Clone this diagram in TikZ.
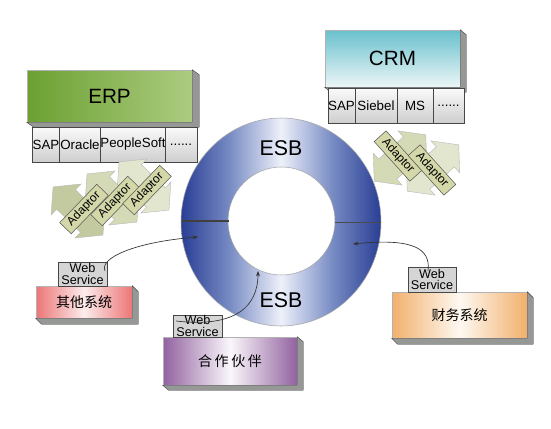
\documentclass[tikz,border=0pt]{standalone}
\usepackage{fontspec}
\setmainfont{Liberation Sans}
\newfontfamily\cjk{Noto Sans CJK SC}
\usetikzlibrary{shapes.arrows,arrows.meta}
\definecolor{esbdark}{RGB}{42,62,148}
\definecolor{esbmid}{RGB}{118,138,195}
\definecolor{esblight}{RGB}{238,241,250}
\definecolor{erpl}{RGB}{108,160,50}
\definecolor{erpr}{RGB}{172,204,128}
\definecolor{crmt}{RGB}{105,192,205}
\definecolor{crmb}{RGB}{236,246,247}
\definecolor{redc}{RGB}{236,118,118}
\definecolor{redm}{RGB}{252,236,236}
\definecolor{purc}{RGB}{146,98,160}
\definecolor{purm}{RGB}{250,247,251}
\definecolor{orac}{RGB}{242,176,108}
\definecolor{oram}{RGB}{254,249,242}
\definecolor{extc}{RGB}{150,152,150}
\definecolor{adlab}{RGB}{212,216,168}
\definecolor{adA}{RGB}{196,202,160}
\definecolor{adB}{RGB}{212,217,182}
\definecolor{adC}{RGB}{226,230,206}
\pgfdeclarehorizontalshading{esbshade}{100bp}{color(0bp)=(esbdark); color(25bp)=(esbdark); color(37bp)=(esbmid); color(50bp)=(esblight); color(63bp)=(esbmid); color(75bp)=(esbdark); color(100bp)=(esbdark)}
\newcommand\extrude[3]{\fill[extc, draw=gray!50!black, line width=0.3pt] (#1.north east) -- ([shift={(#2,#3)}]#1.north east) -- ([shift={(#2,#3)}]#1.south east) -- ([shift={(#2,#3)}]#1.south west) -- (#1.south west) -- (#1.south east) -- cycle;}
\begin{document}
\begin{tikzpicture}[x=0.75pt,y=-0.75pt,
  bigbox/.style={draw=gray!60, line width=0.4pt, inner sep=0pt, font=\fontsize{15.5}{16}\selectfont},
  subbox/.style={draw=gray!55!black, line width=0.4pt, top color=white!96!gray, bottom color=gray!38, minimum height=26.25pt, inner sep=0pt, font=\fontsize{10}{11}\selectfont},
  sysbox/.style={draw=gray!60, line width=0.4pt, inner sep=0pt, font=\cjk\fontsize{10.5}{12}\selectfont},
  wsbox/.style={draw=gray!55!black, line width=0.4pt, fill=gray!33, inner sep=0pt, align=center, font=\fontsize{9.5}{8.6}\selectfont},
  adarrow/.style={double arrow, draw=gray!55, line width=0.3pt, minimum height=52pt, minimum width=32pt, inner xsep=0pt, inner ysep=10pt, double arrow head extend=6pt, double arrow tip angle=100},
  adlabel/.style={draw=black!65, line width=0.4pt, fill=adlab, minimum width=40pt, minimum height=12pt, inner sep=0pt, font=\fontsize{9}{10}\selectfont},
  conn/.style={line width=0.5pt, black!80, -{Stealth[length=4pt,width=3pt]}},
  esbtext/.style={font=\fontsize{16}{16}\selectfont}]
\useasboundingbox (0,0) rectangle (551,429);
\fill[white] (0,0) rectangle (551,429);

% ESB ring
\path[shade, shading=esbshade, draw=gray!70, line width=0.4pt, even odd rule]
  (281,222) ellipse [x radius=100, y radius=104]
  (281.5,221) ellipse [x radius=53.5, y radius=54];
\draw[black!75, line width=0.9pt] (182,221) -- (229,221);
\draw[black!70, line width=0.6pt] (335,222) -- (381,222);
\node[esbtext] (esbtop) at (281,148) {ESB};
\node[esbtext] (esbbot) at (281,300) {ESB};

% ERP
\node[bigbox, left color=erpl, right color=erpr, minimum width=123.75pt, minimum height=39pt] (erp) at (109.5,96) {ERP};
\extrude{erp}{7}{5}
\node[subbox, minimum width=19.5pt] (e1) at (46,144.5) {SAP};
\node[subbox, minimum width=31.5pt] (e2) at (80,144.5) {Oracle};
\node[subbox, minimum width=48pt] (e3) at (133,144.5) {PeopleSoft};
\node[subbox, minimum width=24pt] (e4) at (181,144.5) {......};

% CRM
\node[bigbox, top color=crmt, bottom color=crmb, minimum width=101.25pt, minimum height=42.75pt] (crm) at (392.5,58.5) {CRM};
\extrude{crm}{6}{5}
\node[subbox, minimum width=20.25pt] (c1) at (341.5,105.5) {SAP};
\node[subbox, minimum width=31.5pt] (c2) at (376,105.5) {Siebel};
\node[subbox, minimum width=27pt] (c3) at (415,105.5) {MS};
\node[subbox, minimum width=23.25pt] (c4) at (448.5,105.5) {......};

% ERP adaptors
\node[adarrow, fill=adC, rotate=-44] (ea3) at (144,186) {};
\node[adarrow, fill=adB, rotate=-44] (ea2) at (112,198) {};
\node[adarrow, fill=adA, rotate=-44] (ea1) at (78,211) {};
\node[adlabel, rotate=46] (el1) at (84,209) {Adaptor};
\node[adlabel, rotate=46] (el2) at (115,201) {Adaptor};
\node[adlabel, rotate=46] (el3) at (147,190) {Adaptor};

% CRM adaptors
\node[adarrow, fill=adC, rotate=42] (ca2) at (433,168) {};
\node[adarrow, fill=adB, rotate=42] (ca1) at (400,158) {};
\node[adlabel, rotate=-48] (cl1) at (398,156) {Adaptor};
\node[adlabel, rotate=-48] (cl2) at (432,170) {Adaptor};

% Systems
\node[sysbox, left color=redc, right color=redc, middle color=redm, minimum width=72pt, minimum height=24pt] (qt) at (84,302) {其他系统};
\extrude{qt}{6}{6}
\node[wsbox, minimum width=36.75pt, minimum height=18pt] (ws1) at (82.5,274) {Web\\Service};

\node[sysbox, left color=purc, right color=purc, middle color=purm, minimum width=100.5pt, minimum height=36pt] (hz) at (230,361) {合\hspace{2pt}作\hspace{2pt}伙\hspace{2pt}伴};
\extrude{hz}{6}{5}
\node[wsbox, minimum width=36.75pt, minimum height=16.5pt] (ws2) at (197.5,326) {Web\\Service};

\node[sysbox, left color=orac, right color=orac, middle color=oram, minimum width=101.25pt, minimum height=34.5pt] (cw) at (459.5,315) {财务系统};
\extrude{cw}{6}{6}
\node[wsbox, minimum width=36pt, minimum height=18.75pt] (ws3) at (432,279.5) {Web\\Service};

% connectors
\coordinate (s1) at (105,271);
\coordinate (t1) at (198,237);
\coordinate (s2) at (176,321);
\coordinate (t2) at (258,271);
\coordinate (s3) at (428,271);
\coordinate (t3) at (353,244);
\draw[conn] (s1) .. controls (99,258) and (135,242) .. (t1);
\draw[conn] (s2) .. controls (236,328) and (258,306) .. (t2);
\draw[conn] (s3) .. controls (431,248) and (412,238) .. (t3);
\end{tikzpicture}
\end{document}
